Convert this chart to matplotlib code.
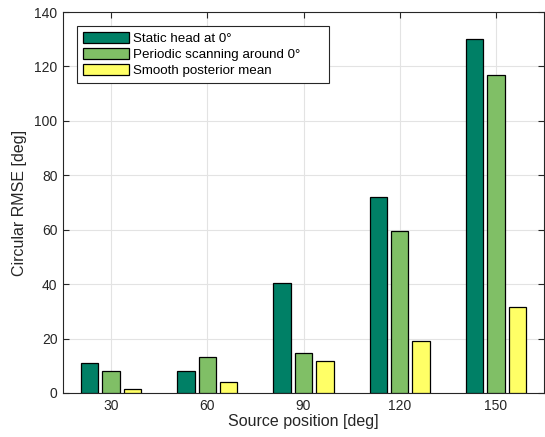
import numpy as np
import matplotlib
matplotlib.use("Agg")
import matplotlib.pyplot as plt

plt.rcParams["font.family"] = ["Liberation Sans", "DejaVu Sans"]

positions = ["30", "60", "90", "120", "150"]
static_head = [10.9, 8.1, 40.3, 72.2, 130.1]
periodic_scan = [8.1, 13.2, 14.8, 59.4, 117.0]
smooth_mean = [1.6, 3.9, 11.8, 19.2, 31.5]

series = [
    ("Static head at 0°", static_head, "#008066"),
    ("Periodic scanning around 0°", periodic_scan, "#80bf66"),
    ("Smooth posterior mean", smooth_mean, "#ffff66"),
]

fig = plt.figure(figsize=(5.45, 4.37), dpi=100)
ax = fig.add_axes([0.1156, 0.1007, 0.8826, 0.8718])

x = np.arange(1, len(positions) + 1)
w = 0.18
for i, (name, vals, col) in enumerate(series):
    ax.bar(x + (i - 1) * 0.222, vals, w, color=col, edgecolor="black",
           linewidth=0.9, label=name, zorder=3)

ax.set_xlim(0.5, 5.5)
ax.set_ylim(0, 140)
ax.set_xticks(x)
ax.set_xticklabels(positions)
ax.set_yticks(range(0, 141, 20))
ax.grid(True, color="#e3e3e3", linewidth=0.8, zorder=0)
ax.tick_params(direction="in", top=True, right=True, length=4, pad=4,
               labelsize=10, color="#262626", labelcolor="#262626")
for s in ax.spines.values():
    s.set_color("#262626")
    s.set_linewidth(0.8)
ax.set_xlabel("Source position [deg]", fontsize=11.5, color="#262626", labelpad=1)
ax.set_ylabel("Circular RMSE [deg]", fontsize=11.5, color="#262626", labelpad=5)

# MATLAB-style legend box: wider on the right than the text needs
leg = ax.legend(loc="upper left", mode="expand",
                bbox_to_anchor=(0.0297, 0.5, 0.524, 0.464), fontsize=9.6,
                fancybox=False, framealpha=1, edgecolor="#262626",
                handlelength=3.4, handleheight=0.87, handletextpad=0.35,
                labelspacing=0.25, borderpad=0.45, borderaxespad=0)
leg.get_frame().set_linewidth(0.8)

fig.savefig("out.png", dpi=100)
